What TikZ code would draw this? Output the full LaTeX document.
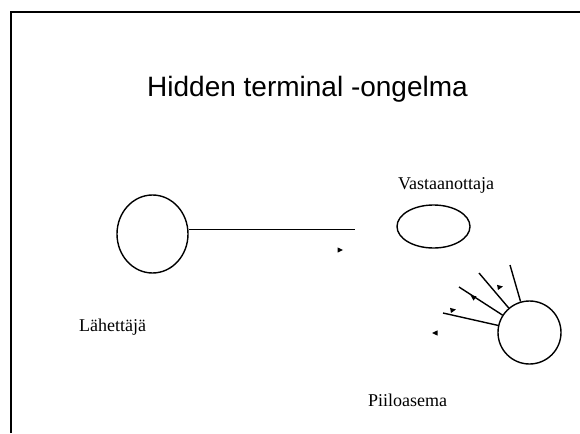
\documentclass[tikz,border=0pt]{standalone}
\usepackage{fontspec}
\setmainfont{Liberation Serif}
\newfontfamily\titlefont{Liberation Sans}
\usepackage{tikz}
\usetikzlibrary{shapes.geometric}

\tikzset{
  station/.style={draw, ellipse, line width=1.4pt, inner sep=0pt},
  ray/.style={line width=1.4pt},
  label/.style={anchor=base west, inner sep=0pt, font=\fontsize{18}{21}\selectfont},
}

\begin{document}
\begin{tikzpicture}[x=1pt, y=-1pt]

  \useasboundingbox (0,0) rectangle (580,433);

  % ---------- Slide frame ----------
  \draw[line width=2pt] (10.5,433) -- (10.5,12) -- (580,12);

  % ---------- Title ----------
  \node[anchor=base west, inner sep=0pt, font=\titlefont\fontsize{28}{32}\selectfont] (title) at (147,97) {Hidden terminal -ongelma};

  % ---------- Stations ----------
  \node[station, minimum width=71pt, minimum height=78pt] (lahettaja) at (152.5,234) {};
  \node[station, minimum width=73pt, minimum height=43pt] (vastaanottaja) at (433.5,226.5) {};
  \node[station, minimum width=63pt, minimum height=63pt] (piilo) at (529.5,332.5) {};

  \node[label] (lahlabel) at (79,331) {Lähettäjä};
  \node[label] (vastlabel) at (398,189) {Vastaanottaja};
  \node[label] (piilolabel) at (368,406) {Piiloasema};

  % ---------- Signal from sender ----------
  \coordinate (signal) at (355,229.5);
  \draw[ray] (lahettaja.east |- signal) -- (signal);

  % ---------- Rays of the hidden station ----------
  \coordinate (r1) at (443,313);
  \coordinate (r2) at (459,287);
  \coordinate (r3) at (479,273);
  \coordinate (r4) at (510,265);
  \foreach \r in {r1,r2,r3,r4}
    \draw[ray] (piilo) -- (\r);

  % small arrowheads (x / y / direction)
  \foreach \x/\y/\a in {340/250/0, 453/310/10, 500/287/10, 435/333/180, 473/297/144}
    \fill[shift={(\x,\y)}, rotate=\a] (3,0) -- (-2.5,2.6) -- (-2.5,-2.6) -- cycle;

\end{tikzpicture}
\end{document}
